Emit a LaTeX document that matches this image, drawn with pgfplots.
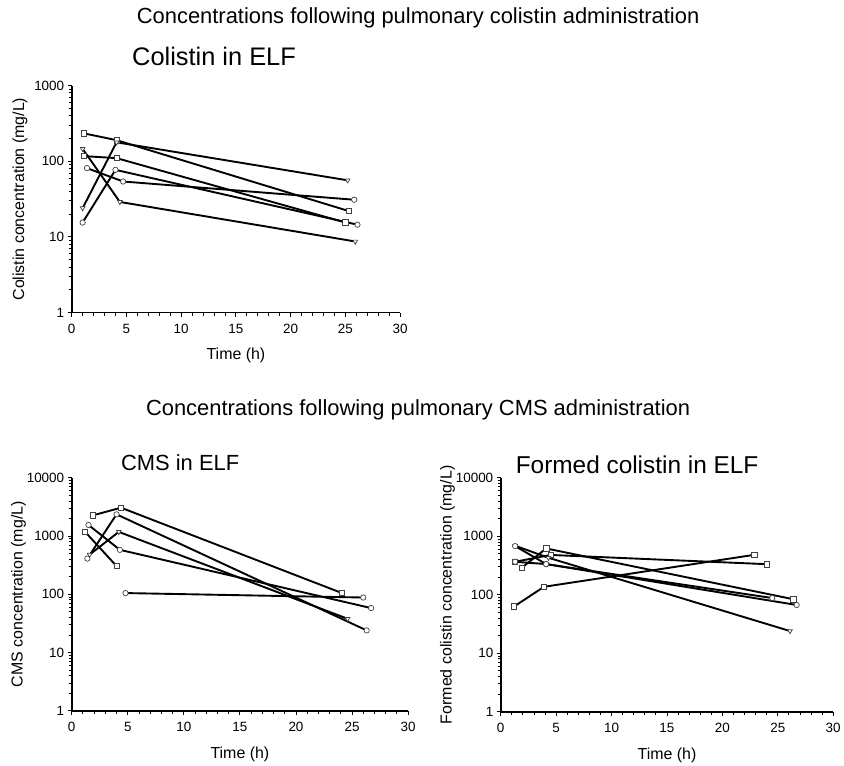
\documentclass[border=0pt]{standalone}
\usepackage{fontspec}
\setmainfont{Liberation Sans}
\usepackage{pgfplots}
\pgfplotsset{compat=1.18}

\pgfplotsset{
  pk/.style={
    scale only axis, anchor=south west, clip=false,
    xmin=0, xmax=30, xtick={0,5,...,30}, minor x tick num=4,
    axis lines=left, axis line style={-, line width=1.8pt},
    tick align=outside, major tick length=4pt, minor tick length=3pt,
    tick style={black, line width=0.9pt},
    tick label style={font=\fontsize{13.5}{15}\selectfont},
    xticklabel style={yshift=-4pt},
    label style={font=\fontsize{16}{19}\selectfont},
    xlabel={Time (h)},
    xlabel style={yshift=-8pt},
    every axis plot/.append style={black, line width=1.9pt, mark size=2.7pt},
  },
  sq/.style={mark=square*, mark options={solid, fill=white, draw=black!75, line width=0.7pt}},
  ci/.style={mark=*, mark options={solid, fill=white, draw=black!75, line width=0.7pt}},
  tr/.style={mark=triangle*, mark options={solid, fill=white, draw=black!75, line width=0.7pt, rotate=180}},
}

\begin{document}
\begin{tikzpicture}
\path (0pt,0pt) rectangle (844pt,764pt);

\node[font=\fontsize{22}{26}\selectfont] at (420pt,746pt) {Concentrations following pulmonary colistin administration};
\node[font=\fontsize{25.5}{30}\selectfont] at (215pt,707pt) {Colistin in ELF};
\node[font=\fontsize{22}{26}\selectfont] at (420pt,352pt) {Concentrations following pulmonary CMS administration};
\node[font=\fontsize{22}{26}\selectfont] at (181pt,299pt) {CMS in ELF};
\node[font=\fontsize{24.5}{29}\selectfont] at (640pt,297pt) {Formed colistin in ELF};

% colistin in ELF
\begin{axis}[ymode=log, pk, at={(72pt,450pt)}, width=330pt, height=228pt,
  ymin=1, ymax=1000, ytick={1,10,100,1000}, yticklabels={1,10,100,1000},
  xticklabels={0,5,10,15,20,25,30},
  ylabel={Colistin concentration (mg/L)}]
  \addplot[sq] coordinates {(1.1,234)(4.1,190)(25.3,22)};
  \addplot[tr] coordinates {(1.0,24)(4.1,178)(25.2,56)};
  \addplot[sq] coordinates {(1.1,117)(4.1,110)(25.0,15.5)};
  \addplot[tr] coordinates {(1.0,146)(4.4,29)(25.9,8.7)};
  \addplot[ci] coordinates {(1.4,81)(4.7,54)(25.8,31)};
  \addplot[ci] coordinates {(1.0,15.5)(4.0,77)(26.1,14.5)};
\end{axis}

% CMS in ELF
\begin{axis}[ymode=log, pk, at={(72pt,50pt)}, width=338pt, height=234pt,
  ymin=1, ymax=10000, ytick={1,10,100,1000,10000}, yticklabels={1,10,100,1000,10000},
  xticklabels={0,5,10,15,20,25,30},
  ylabel={CMS concentration (mg/L)}, ylabel style={yshift=-6pt}]
  \addplot[sq] coordinates {(1.9,2270)(4.4,3070)(24.1,105)};
  \addplot[ci] coordinates {(1.4,410)(4.0,2360)(26.3,24)};
  \addplot[sq] coordinates {(1.2,1180)(4.0,305)};
  \addplot[ci] coordinates {(1.5,1550)(4.3,580)(26.7,58)};
  \addplot[tr] coordinates {(1.6,480)(4.2,1180)(24.6,38)};
  \addplot[ci] coordinates {(4.8,105)(26.0,88)};
\end{axis}

% formed colistin in ELF
\begin{axis}[ymode=log, pk, at={(503pt,49pt)}, width=334pt, height=235pt,
  ymin=1, ymax=10000, ytick={1,10,100,1000,10000}, yticklabels={1,10,100,1000,10000},
  xticklabels={0,5,10,15,20,25,30},
  ylabel={Formed colistin concentration (mg/L)}, ylabel style={yshift=-6pt}]
  \addplot[sq] coordinates {(1.2,63)(3.9,137)(22.9,483)};
  \addplot[sq] coordinates {(1.9,290)(4.1,620)(26.4,84)};
  \addplot[sq] coordinates {(1.3,367)(4.5,480)(24.0,334)};
  \addplot[tr] coordinates {(1.3,690)(4.3,430)(26.1,24)};
  \addplot[ci] coordinates {(1.3,680)(4.1,335)(26.7,67)};
  \addplot[ci] coordinates {(1.3,367)(4.1,335)(24.5,88)};
\end{axis}
\end{tikzpicture}
\end{document}
